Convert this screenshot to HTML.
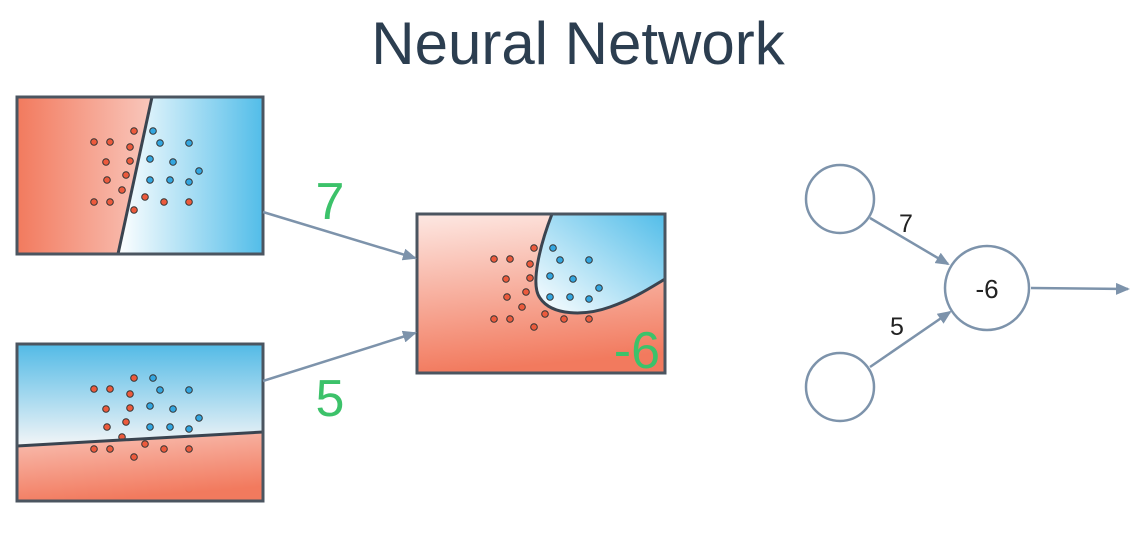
<!DOCTYPE html>
<html><head><meta charset="utf-8"><style>html,body{margin:0;padding:0;background:#fff}svg{display:block}</style></head>
<body>
<svg width="1146" height="543" viewBox="0 0 1146 543" xmlns="http://www.w3.org/2000/svg" font-family="Liberation Sans, sans-serif">
<defs>
<linearGradient id="r1" x1="0" y1="0" x2="1" y2="0"><stop offset="0" stop-color="#f27a5e"/><stop offset="1" stop-color="#f9c7bc"/></linearGradient>
<linearGradient id="b1" x1="0" y1="0" x2="1" y2="0"><stop offset="0" stop-color="#ffffff"/><stop offset="1" stop-color="#52bde9"/></linearGradient>
<linearGradient id="b3" x1="0" y1="1" x2="0" y2="0"><stop offset="0" stop-color="#f3f5f7"/><stop offset="1" stop-color="#52bae6"/></linearGradient>
<linearGradient id="r3" x1="0" y1="0" x2="0.3" y2="1"><stop offset="0" stop-color="#f9c4b8"/><stop offset="1" stop-color="#f27a5e"/></linearGradient>
<linearGradient id="r2" x1="0" y1="0" x2="0.15" y2="1"><stop offset="0" stop-color="#fde8e3"/><stop offset="1" stop-color="#f27a5e"/></linearGradient>
<linearGradient id="b2" x1="0" y1="1" x2="1" y2="0"><stop offset="0" stop-color="#ffffff"/><stop offset="1" stop-color="#52bde9"/></linearGradient>
<marker id="ah" markerWidth="14" markerHeight="12" refX="12" refY="6" orient="auto" markerUnits="userSpaceOnUse"><path d="M0,0 L14,6 L0,12 z" fill="#7d93ab"/></marker>
<g id="dots" stroke="#333" stroke-width="1">
<g fill="#ec5a3c"><circle cx="117" cy="34" r="3.3"/><circle cx="77" cy="45" r="3.3"/><circle cx="93" cy="45" r="3.3"/><circle cx="113" cy="50" r="3.3"/><circle cx="89" cy="65" r="3.3"/><circle cx="113" cy="64" r="3.3"/><circle cx="90" cy="83" r="3.3"/><circle cx="109" cy="78" r="3.3"/><circle cx="105" cy="93" r="3.3"/><circle cx="77" cy="105" r="3.3"/><circle cx="93" cy="105" r="3.3"/><circle cx="128" cy="100" r="3.3"/><circle cx="147" cy="105" r="3.3"/><circle cx="172" cy="105" r="3.3"/><circle cx="117" cy="113" r="3.3"/></g>
<g fill="#33a6e0"><circle cx="136" cy="34" r="3.3"/><circle cx="143" cy="46" r="3.3"/><circle cx="172" cy="46" r="3.3"/><circle cx="133" cy="62" r="3.3"/><circle cx="156" cy="65" r="3.3"/><circle cx="182" cy="74" r="3.3"/><circle cx="133" cy="83" r="3.3"/><circle cx="153" cy="83" r="3.3"/><circle cx="172" cy="85" r="3.3"/></g>
</g>
</defs>
<text x="578" y="64" text-anchor="middle" font-size="60" fill="#2c3e50">Neural Network</text>

<!-- box 1 -->
<polygon points="17,97 152,97 118,254 17,254" fill="url(#r1)"/>
<polygon points="152,97 263,97 263,254 118,254" fill="url(#b1)"/>
<use href="#dots" x="17" y="97"/>
<line x1="152" y1="97" x2="118" y2="254" stroke="#3a4450" stroke-width="3"/>
<rect x="17" y="97" width="246" height="157" fill="none" stroke="#4b5560" stroke-width="3"/>

<!-- box 3 -->
<polygon points="17,344 263,344 263,432 17,446" fill="url(#b3)"/>
<polygon points="17,446 263,432 263,501 17,501" fill="url(#r3)"/>
<use href="#dots" x="17" y="344"/>
<line x1="17" y1="446" x2="263" y2="432" stroke="#3a4450" stroke-width="3"/>
<rect x="17" y="344" width="246" height="157" fill="none" stroke="#4b5560" stroke-width="3"/>

<!-- box 2 -->
<rect x="417" y="214" width="248" height="159" fill="url(#r2)"/>
<path d="M552,214 C540,245 530,285 540,298 C552,316 585,316 610,307 C635,298 650,288 665,279 L665,214 Z" fill="url(#b2)"/>
<use href="#dots" x="417" y="214"/>
<path d="M552,214 C540,245 530,285 540,298 C552,316 585,316 610,307 C635,298 650,288 665,279" fill="none" stroke="#3a4450" stroke-width="3"/>
<rect x="417" y="214" width="248" height="159" fill="none" stroke="#4b5560" stroke-width="3"/>
<text x="660" y="368" text-anchor="end" font-size="52" fill="#3cc26a">-6</text>

<!-- arrows -->
<line x1="263" y1="212" x2="415" y2="258" stroke="#7d93ab" stroke-width="2.5" marker-end="url(#ah)"/>
<line x1="263" y1="381" x2="415" y2="333" stroke="#7d93ab" stroke-width="2.5" marker-end="url(#ah)"/>
<text x="330" y="219" text-anchor="middle" font-size="52" fill="#3cc26a">7</text>
<text x="330" y="416" text-anchor="middle" font-size="52" fill="#3cc26a">5</text>

<!-- right network -->
<g fill="none" stroke="#7d93ab" stroke-width="2.5">
<circle cx="840" cy="199" r="34"/>
<circle cx="840" cy="387" r="34"/>
<circle cx="987" cy="288" r="42"/>
<line x1="870" y1="218" x2="948" y2="264" marker-end="url(#ah)"/>
<line x1="870" y1="367" x2="950" y2="312" marker-end="url(#ah)"/>
<line x1="1031" y1="288" x2="1128" y2="289" marker-end="url(#ah)"/>
</g>
<text x="906" y="232" text-anchor="middle" font-size="25" fill="#222">7</text>
<text x="897" y="335" text-anchor="middle" font-size="25" fill="#222">5</text>
<text x="987" y="298" text-anchor="middle" font-size="26" fill="#222">-6</text>
</svg>
</body></html>
